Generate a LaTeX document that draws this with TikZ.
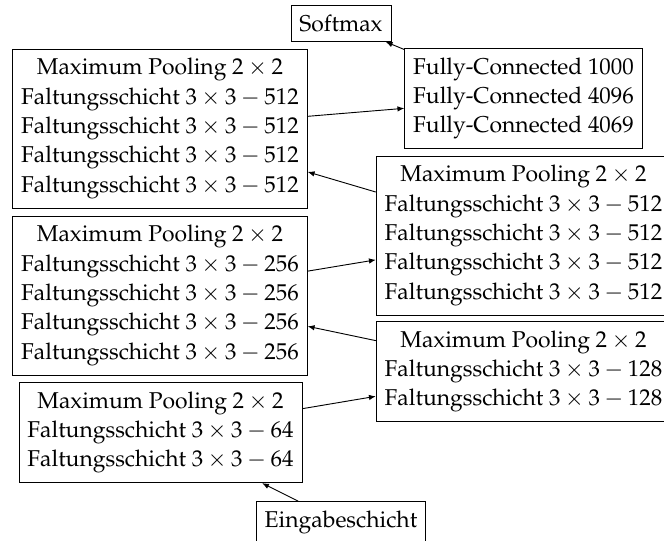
\documentclass[tikz,border=0pt]{standalone}
\usepackage[T1]{fontenc}
\usepackage{mathpazo}
\usetikzlibrary{arrows.meta}
\begin{document}
\begin{tikzpicture}[x=0.437pt,y=-0.437pt,
  layer/.style={draw,line width=0.4pt,align=center,inner xsep=3.7pt,inner ysep=4.1pt,
    font=\fontsize{10}{12.8}\selectfont},
  flow/.style={-{Latex[length=3pt,width=2.4pt]},line width=0.4pt}]
\useasboundingbox (0,0) rectangle (664,541);

% centre column: output and input
\node[layer] (softmax) at (341,23.5)  {Softmax};
\node[layer] (input)   at (341,522.5) {Eingabeschicht};

% left column
\node[layer] (blockA) at (160,128.5) {Maximum Pooling $2\times 2$\\
  Faltungsschicht $3\times 3-512$\\ Faltungsschicht $3\times 3-512$\\
  Faltungsschicht $3\times 3-512$\\ Faltungsschicht $3\times 3-512$};
\node[layer] (blockC) at (160,295.5) {Maximum Pooling $2\times 2$\\
  Faltungsschicht $3\times 3-256$\\ Faltungsschicht $3\times 3-256$\\
  Faltungsschicht $3\times 3-256$\\ Faltungsschicht $3\times 3-256$};
\node[layer] (blockE) at (160.5,432.5) {Maximum Pooling $2\times 2$\\
  Faltungsschicht $3\times 3-64$\\ Faltungsschicht $3\times 3-64$};

% right column
\node[layer] (fc) at (523.5,98.5) {Fully-Connected 1000\\
  Fully-Connected 4096\\ Fully-Connected 4069};
\node[layer] (blockB) at (523.5,235.5) {Maximum Pooling $2\times 2$\\
  Faltungsschicht $3\times 3-512$\\ Faltungsschicht $3\times 3-512$\\
  Faltungsschicht $3\times 3-512$\\ Faltungsschicht $3\times 3-512$};
\node[layer] (blockD) at (523.5,371.5) {Maximum Pooling $2\times 2$\\
  Faltungsschicht $3\times 3-128$\\ Faltungsschicht $3\times 3-128$};

% data flow, bottom to top
\draw[flow] (input)  -- (blockE);
\draw[flow] (blockE) -- (blockD);
\draw[flow] (blockD) -- (blockC);
\draw[flow] (blockC) -- (blockB);
\draw[flow] (blockB) -- (blockA);
\draw[flow] (blockA) -- (fc);
\draw[flow] (fc)     -- (softmax);
\end{tikzpicture}
\end{document}
